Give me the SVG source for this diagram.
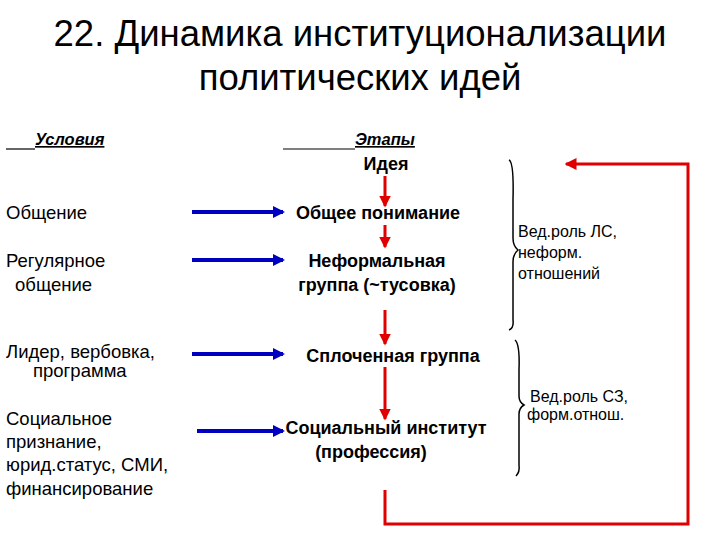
<svg xmlns="http://www.w3.org/2000/svg" width="720" height="540" viewBox="0 0 720 540">
<style>
text{font-family:"Liberation Sans","DejaVu Sans",sans-serif;fill:#000}
.t{font-size:36.5px}
.n{font-size:18.5px}
.h{font-size:16.5px}
.b{font-size:18px;font-weight:bold}
.s{font-size:16px}
.blue{stroke:#0000c0;stroke-width:4;fill:none;marker-end:url(#ab)}
.red{stroke:#e00000;stroke-width:3;fill:none;marker-end:url(#ar)}
.br{stroke:#000;stroke-width:1.5;fill:none}
</style>
<defs>
<marker id="ab" markerWidth="3" markerHeight="3" refX="2.5" refY="1.5" orient="auto" markerUnits="strokeWidth"><path d="M0,0L3,1.5L0,3z" fill="#0000c0"/></marker>
<marker id="ar" markerWidth="4" markerHeight="4" refX="3.5" refY="2" orient="auto" markerUnits="strokeWidth"><path d="M0,0L4,2L0,4z" fill="#e00000"/></marker>
</defs>
<g id="title"><text class="t" x="360" y="46" text-anchor="middle">22. Динамика институционализации</text><text class="t" x="360" y="90" text-anchor="middle">политических идей</text></g>
<g id="headers">
<text class="h" x="35" y="145" font-style="italic" font-weight="bold" text-decoration="underline">Условия</text>
<line x1="6" y1="149" x2="35" y2="149" stroke="#000" stroke-width="1.2"/>
<text class="h" x="355" y="145" font-style="italic" font-weight="bold" text-decoration="underline">Этапы</text>
<line x1="283" y1="149" x2="355" y2="149" stroke="#000" stroke-width="1.2"/>
</g>
<g id="cond1"><text class="n" x="6" y="219">Общение</text></g>
<g id="cond2"><text class="n" x="6" y="267">Регулярное</text><text class="n" x="15" y="291">общение</text></g>
<g id="cond3"><text class="n" x="6" y="358">Лидер, вербовка,</text><text class="n" x="33" y="377">программа</text></g>
<g id="cond4"><text class="n" x="6" y="425">Социальное</text><text class="n" x="6" y="448">признание,</text><text class="n" x="6" y="471">юрид.статус, СМИ,</text><text class="n" x="6" y="495">финансирование</text></g>
<g id="st0"><text class="b" x="386" y="170" text-anchor="middle">Идея</text></g>
<g id="st1"><text class="b" x="378" y="219" text-anchor="middle">Общее понимание</text></g>
<g id="st2"><text class="b" x="377" y="267" text-anchor="middle">Неформальная</text><text class="b" x="377" y="291" text-anchor="middle">группа (~тусовка)</text></g>
<g id="st3"><text class="b" x="393" y="362" text-anchor="middle">Сплоченная группа</text></g>
<g id="st4"><text class="b" x="386" y="434" text-anchor="middle">Социальный институт</text><text class="b" x="371" y="458" text-anchor="middle">(профессия)</text></g>
<g id="note1"><text class="s" x="518" y="237">Вед.роль ЛС,</text><text class="s" x="518" y="258">неформ.</text><text class="s" x="518" y="279">отношений</text></g>
<g id="note2"><text class="s" x="530" y="402">Вед.роль СЗ,</text><text class="s" x="527" y="420">форм.отнош.</text></g>
<g id="connectors">
<line class="blue" x1="192" y1="212" x2="283" y2="212"/>
<line class="blue" x1="192" y1="260" x2="283" y2="260"/>
<line class="blue" x1="192" y1="354" x2="283" y2="354"/>
<line class="blue" x1="197" y1="431" x2="283" y2="431"/>
<line class="red" x1="385" y1="176" x2="385" y2="206"/>
<line class="red" x1="385" y1="225" x2="385" y2="247"/>
<line class="red" x1="385" y1="310" x2="385" y2="344"/>
<line class="red" x1="385" y1="367" x2="385" y2="419"/>
<path class="red" d="M385,490V524H688V164H566"/>
<path class="br" d="M509,160Q514,162 513,200V238Q513,246 518,250Q513,254 513,262V320Q514,328 509,330"/>
<path class="br" d="M515,340Q520,344 519,370V396Q519,402 524,405Q519,408 519,414V465Q520,472 516,476"/>
</g>
</svg>
